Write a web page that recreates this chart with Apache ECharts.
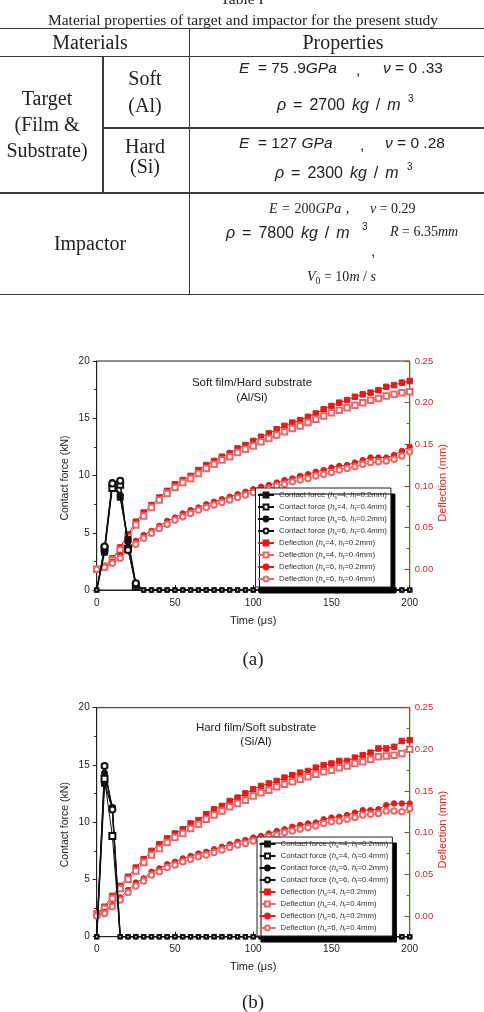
<!DOCTYPE html>
<html>
<head>
<meta charset="utf-8">
<title>Material properties and impact response</title>
<script src="https://cdn.jsdelivr.net/npm/echarts@6/dist/echarts.min.js"></script>
<style>
  html, body { margin: 0; padding: 0; background: #fff; overflow: hidden; }
  #page { position: relative; width: 484px; height: 1012px; }
  #chart { position: absolute; left: 0; top: 0; width: 484px; height: 1012px; }
  .c { position: absolute; transform: translate(-50%, -50%); white-space: pre; line-height: 1; color: #222; }
  .l { position: absolute; transform: translate(0, -50%); white-space: pre; line-height: 1; color: #222; }
  .serif { font-family: "Liberation Serif", "Times New Roman", serif; }
  .f { font-family: "Liberation Sans", Arial, sans-serif; font-size: 15.5px; }
  .fr { font-family: "Liberation Sans", Arial, sans-serif; font-size: 16px; word-spacing: 2.5px; }
  .fi { font-family: "Liberation Serif", "Times New Roman", serif; font-size: 14px; }
  .h { position: absolute; height: 1.5px; background: #3a3a3a; }
  .v { position: absolute; width: 1.5px; background: #3a3a3a; }
  sub { font-size: 0.7em; vertical-align: -0.35em; line-height: 0; }
</style>
</head>
<body>
<div id="page">
  <div id="chart"></div>

  <!-- table -->
  <div class="c serif" style="left:242px;top:-1px;font-size:15.5px">Table I</div>
  <div class="c serif" style="left:243px;top:20px;font-size:15.5px">Material properties of target and impactor for the present study</div>

  <div class="h" style="left:0;top:27.5px;width:484px"></div>
  <div class="h" style="left:0;top:55.5px;width:484px"></div>
  <div class="h" style="left:102px;top:127px;width:382px"></div>
  <div class="h" style="left:0;top:192px;width:484px"></div>
  <div class="h" style="left:0;top:293.5px;width:484px"></div>
  <div class="v" style="left:188.5px;top:28px;height:266px"></div>
  <div class="v" style="left:102px;top:56px;height:137px"></div>

  <div class="c serif" style="left:90px;top:42px;font-size:20px">Materials</div>
  <div class="c serif" style="left:343px;top:42px;font-size:20px">Properties</div>

  <div class="c serif" style="left:47px;top:98px;font-size:20px">Target</div>
  <div class="c serif" style="left:47px;top:124px;font-size:20px">(Film &amp;</div>
  <div class="c serif" style="left:47px;top:150px;font-size:20px">Substrate)</div>

  <div class="c serif" style="left:145px;top:78px;font-size:20px">Soft</div>
  <div class="c serif" style="left:145px;top:105px;font-size:20px">(Al)</div>
  <div class="c serif" style="left:145px;top:146px;font-size:20px">Hard</div>
  <div class="c serif" style="left:145px;top:166px;font-size:20px">(Si)</div>

  <!-- soft (Al) -->
  <div class="l f" style="left:239px;top:68px"><i>E</i>  = 75 .9<i>GPa</i></div>
  <div class="l f" style="left:356px;top:70px">,</div>
  <div class="l f" style="left:383px;top:68px"><i>ν</i> = 0 .33</div>
  <div class="l fr" style="left:277px;top:105px"><i>ρ</i> = 2700 <i>kg</i> / <i>m</i></div>
  <div class="l f" style="left:408px;top:99px;font-size:10px">3</div>

  <!-- hard (Si) -->
  <div class="l f" style="left:239px;top:143px"><i>E</i>  = 127 <i>GPa</i></div>
  <div class="l f" style="left:360px;top:145px">,</div>
  <div class="l f" style="left:385px;top:143px"><i>ν</i> = 0 .28</div>
  <div class="l fr" style="left:275px;top:173px"><i>ρ</i> = 2300 <i>kg</i> / <i>m</i></div>
  <div class="l f" style="left:407px;top:167px;font-size:10px">3</div>

  <!-- impactor -->
  <div class="c serif" style="left:90px;top:243px;font-size:20px">Impactor</div>
  <div class="l fi" style="left:269px;top:209px;word-spacing:1px"><i>E</i> = 200<i>GPa</i> ,</div>
  <div class="l fi" style="left:370px;top:209px"><i>ν</i> = 0.29</div>
  <div class="l fr" style="left:226px;top:233px"><i>ρ</i> = 7800 <i>kg</i> / <i>m</i></div>
  <div class="l f" style="left:362px;top:227px;font-size:10px">3</div>
  <div class="l f" style="left:371px;top:251px">,</div>
  <div class="l fi" style="left:390px;top:232px"><i>R</i> = 6.35<i>mm</i></div>
  <div class="l fi" style="left:307px;top:277px"><i>V</i><sub>0</sub> = 10<i>m</i> / <i>s</i></div>
</div>

<script>
// time axis (μs), one point every 5 μs
const times = [0, 5, 10, 15, 20, 25, 30, 35, 40, 45, 50, 55, 60, 65, 70, 75, 80, 85, 90, 95, 100,
  105, 110, 115, 120, 125, 130, 135, 140, 145, 150, 155, 160, 165, 170, 175, 180, 185, 190, 195, 200];

const timeTicks = [0, 50, 100, 150, 200];
const forceTicks = [0, 5, 10, 15, 20];
const deflTicks = [0, 0.05, 0.10, 0.15, 0.20, 0.25];
const deflMinorTicks = [0.025, 0.075, 0.125, 0.175, 0.225];

const cfNames = [
  'Contact force (hs=4, hf=0.2mm)',
  'Contact force (hs=4, hf=0.4mm)',
  'Contact force (hs=6, hf=0.2mm)',
  'Contact force (hs=6, hf=0.4mm)'
];
const defNames = [
  'Deflection (hs=4, hf=0.2mm)',
  'Deflection (hs=4, hf=0.4mm)',
  'Deflection (hs=6, hf=0.2mm)',
  'Deflection (hs=6, hf=0.4mm)'
];

// (a) Soft film / Hard substrate (Al/Si)
const cfA_s4_02 = [0, 3.3, 9.2, 8.1, 4.4, 0.5, 0, 0, 0, 0, 0, 0, 0, 0, 0, 0, 0, 0, 0, 0, 0, 0, 0, 0, 0, 0, 0, 0, 0, 0, 0, 0, 0, 0, 0, 0, 0, 0, 0, 0, 0];
const cfA_s4_04 = [0, 3.6, 8.9, 9.2, 3.6, 0.3, 0, 0, 0, 0, 0, 0, 0, 0, 0, 0, 0, 0, 0, 0, 0, 0, 0, 0, 0, 0, 0, 0, 0, 0, 0, 0, 0, 0, 0, 0, 0, 0, 0, 0, 0];
const cfA_s6_02 = [0, 3.5, 9.4, 8.3, 4.2, 0.4, 0, 0, 0, 0, 0, 0, 0, 0, 0, 0, 0, 0, 0, 0, 0, 0, 0, 0, 0, 0, 0, 0, 0, 0, 0, 0, 0, 0, 0, 0, 0, 0, 0, 0, 0];
const cfA_s6_04 = [0, 3.8, 9.3, 9.55, 3.5, 0.6, 0, 0, 0, 0, 0, 0, 0, 0, 0, 0, 0, 0, 0, 0, 0, 0, 0, 0, 0, 0, 0, 0, 0, 0, 0, 0, 0, 0, 0, 0, 0, 0, 0, 0, 0];

const defA_s4_02 = [0.000, 0.004, 0.013, 0.026, 0.042, 0.057, 0.068, 0.077, 0.086, 0.094, 0.102, 0.107, 0.112, 0.119,
  0.125, 0.130, 0.135, 0.139, 0.145, 0.149, 0.154, 0.159, 0.163, 0.168, 0.172, 0.176, 0.179, 0.183, 0.187, 0.192,
  0.196, 0.200, 0.203, 0.207, 0.210, 0.212, 0.215, 0.219, 0.221, 0.224, 0.226];
const defA_s4_04 = [0.000, 0.003, 0.011, 0.023, 0.038, 0.053, 0.064, 0.074, 0.083, 0.091, 0.098, 0.104, 0.109, 0.115,
  0.121, 0.126, 0.131, 0.135, 0.140, 0.144, 0.148, 0.153, 0.157, 0.161, 0.165, 0.169, 0.172, 0.176, 0.180, 0.184,
  0.188, 0.191, 0.194, 0.197, 0.200, 0.203, 0.205, 0.208, 0.210, 0.212, 0.213];
const defA_s6_02 = [0.000, 0.003, 0.009, 0.017, 0.026, 0.034, 0.041, 0.046, 0.052, 0.058, 0.062, 0.067, 0.071, 0.074,
  0.078, 0.081, 0.084, 0.087, 0.090, 0.093, 0.096, 0.099, 0.101, 0.104, 0.107, 0.109, 0.112, 0.114, 0.117, 0.119,
  0.122, 0.124, 0.125, 0.128, 0.131, 0.134, 0.134, 0.134, 0.137, 0.142, 0.147];
const defA_s6_04 = [0.000, 0.002, 0.007, 0.013, 0.022, 0.030, 0.037, 0.043, 0.049, 0.054, 0.059, 0.063, 0.067, 0.071,
  0.074, 0.077, 0.080, 0.083, 0.086, 0.089, 0.092, 0.094, 0.097, 0.100, 0.102, 0.105, 0.107, 0.109, 0.112, 0.114,
  0.116, 0.119, 0.121, 0.123, 0.126, 0.128, 0.129, 0.130, 0.132, 0.136, 0.141];

// (b) Hard film / Soft substrate (Si/Al)
const cfB_s4_02 = [0, 13.4, 11.2, 0, 0, 0, 0, 0, 0, 0, 0, 0, 0, 0, 0, 0, 0, 0, 0, 0, 0, 0, 0, 0, 0, 0, 0, 0, 0, 0, 0, 0, 0, 0, 0, 0, 0, 0, 0, 0, 0];
const cfB_s4_04 = [0, 13.8, 8.8, 0, 0, 0, 0, 0, 0, 0, 0, 0, 0, 0, 0, 0, 0, 0, 0, 0, 0, 0, 0, 0, 0, 0, 0, 0, 0, 0, 0, 0, 0, 0, 0, 0, 0, 0, 0, 0, 0];
const cfB_s6_02 = [0, 14.3, 11.3, 0, 0, 0, 0, 0, 0, 0, 0, 0, 0, 0, 0, 0, 0, 0, 0, 0, 0, 0, 0, 0, 0, 0, 0, 0, 0, 0, 0, 0, 0, 0, 0, 0, 0, 0, 0, 0, 0];
const cfB_s6_04 = [0, 14.9, 11.1, 0, 0, 0, 0, 0, 0, 0, 0, 0, 0, 0, 0, 0, 0, 0, 0, 0, 0, 0, 0, 0, 0, 0, 0, 0, 0, 0, 0, 0, 0, 0, 0, 0, 0, 0, 0, 0, 0];

const defB_s4_02 = [0.003, 0.011, 0.024, 0.036, 0.047, 0.058, 0.068, 0.078, 0.086, 0.093, 0.099, 0.104, 0.111, 0.115,
  0.122, 0.128, 0.132, 0.138, 0.142, 0.147, 0.152, 0.156, 0.159, 0.162, 0.166, 0.169, 0.172, 0.174, 0.178, 0.181,
  0.183, 0.186, 0.186, 0.190, 0.193, 0.196, 0.201, 0.201, 0.203, 0.210, 0.211];
const defB_s4_04 = [0.002, 0.009, 0.021, 0.033, 0.044, 0.054, 0.064, 0.073, 0.081, 0.088, 0.094, 0.099, 0.105, 0.110,
  0.116, 0.121, 0.126, 0.131, 0.135, 0.139, 0.144, 0.148, 0.151, 0.155, 0.158, 0.161, 0.164, 0.167, 0.170, 0.173,
  0.175, 0.178, 0.180, 0.183, 0.185, 0.188, 0.191, 0.192, 0.193, 0.195, 0.200];
const defB_s6_02 = [0.001, 0.005, 0.013, 0.022, 0.031, 0.040, 0.045, 0.053, 0.057, 0.062, 0.065, 0.069, 0.072, 0.075,
  0.077, 0.080, 0.083, 0.086, 0.089, 0.091, 0.094, 0.096, 0.099, 0.102, 0.104, 0.107, 0.109, 0.111, 0.112, 0.116,
  0.118, 0.119, 0.121, 0.124, 0.127, 0.127, 0.128, 0.133, 0.135, 0.135, 0.135];
const defB_s6_04 = [0.000, 0.003, 0.011, 0.019, 0.028, 0.036, 0.042, 0.049, 0.053, 0.058, 0.061, 0.065, 0.068, 0.071,
  0.073, 0.076, 0.079, 0.082, 0.085, 0.087, 0.090, 0.092, 0.095, 0.097, 0.100, 0.102, 0.104, 0.106, 0.108, 0.111,
  0.113, 0.114, 0.116, 0.118, 0.121, 0.122, 0.123, 0.126, 0.126, 0.125, 0.129];

const SANS = '"Liberation Sans", Arial, sans-serif';
const SERIF = '"Liberation Serif", "Times New Roman", serif';
const INK = '#222';
const RED = '#e01c1c';
const PINK = '#e26a6a';
const AXRED = '#cf2b2b';
const symbols = ['rect', 'emptyRect', 'circle', 'emptyCircle'];

function pts(arr) {
  return times.map((t, i) => [t, arr[i]]);
}

function cfSeries(name, arr, g, k) {
  return {
    name: name, type: 'line', xAxisIndex: g, yAxisIndex: g * 3,
    data: pts(arr), symbol: symbols[k],
    symbolSize: function (v) { return v[1] === 0 ? 3.5 : 6; },
    lineStyle: { width: k % 2 ? 1 : 1.4, color: '#111' },
    itemStyle: { color: '#111', borderColor: '#111', borderWidth: 1 },
    animation: false, z: 3
  };
}

function defSeries(name, arr, g, k) {
  const col = k % 2 ? PINK : RED;
  return {
    name: name, type: 'line', xAxisIndex: g, yAxisIndex: g * 3 + 1,
    data: pts(arr), symbol: symbols[k], symbolSize: 5.5,
    lineStyle: { width: 1, color: col },
    itemStyle: { color: col, borderColor: col, borderWidth: 1 },
    animation: false, z: 2
  };
}

function axesFor(g) {
  const x = {
    gridIndex: g, type: 'value', min: 0, max: 200, interval: 50,
    axisLine: { show: true, lineStyle: { color: INK, width: 1 } },
    axisTick: { show: true, inside: true, length: 5, customValues: timeTicks, lineStyle: { color: INK } },
    minorTick: { show: true, splitNumber: 2, length: 3, lineStyle: { color: INK } },
    axisLabel: { color: INK, fontSize: 10, margin: 8, fontFamily: SANS, customValues: timeTicks },
    splitLine: { show: false },
    name: 'Time (μs)', nameLocation: 'middle', nameGap: 25, nameMoveOverlap: false,
    nameTextStyle: { fontSize: 11, color: INK, fontFamily: SANS }
  };
  const yl = {
    gridIndex: g, type: 'value', position: 'left', min: 0, max: 20, interval: 5,
    axisLine: { show: true, lineStyle: { color: INK } },
    axisTick: { show: true, inside: false, length: 4, lineStyle: { color: INK } },
    minorTick: { show: true, splitNumber: 2, length: 2.5, lineStyle: { color: INK } },
    axisLabel: { color: INK, fontSize: 10, margin: 7, fontFamily: SANS, customValues: forceTicks },
    splitLine: { show: false },
    name: 'Contact force (kN)', nameLocation: 'middle', nameRotate: 90, nameGap: 26, nameMoveOverlap: false,
    nameTextStyle: { fontSize: 10.5, color: INK, fontFamily: SANS, padding: [0, 5, 0, 0] }
  };
  const yr = {
    gridIndex: g, type: 'value', position: 'right', min: -0.025, max: 0.25,
    axisLine: { show: true, lineStyle: { color: AXRED } },
    axisTick: { show: true, inside: true, length: 5, customValues: deflTicks, lineStyle: { color: AXRED } },
    axisLabel: {
      color: AXRED, fontSize: 9.5, margin: 5, fontFamily: SANS, customValues: deflTicks,
      formatter: function (v) { return v.toFixed(2); }
    },
    splitLine: { show: false },
    name: 'Deflection (mm)', nameLocation: 'middle', nameRotate: 90, nameGap: 28, nameMoveOverlap: false,
    nameTextStyle: { fontSize: 11, color: AXRED, fontFamily: SANS, padding: [0, 15, 0, 0] }
  };
  const yrMinor = {
    gridIndex: g, type: 'value', position: 'right', min: -0.025, max: 0.25,
    axisLine: { show: false },
    axisTick: { show: true, inside: true, length: 3, customValues: deflMinorTicks, lineStyle: { color: AXRED } },
    axisLabel: { show: false },
    splitLine: { show: false }
  };
  return { x: x, y: [yl, yr, yrMinor] };
}

function legendFor(left, top) {
  return {
    orient: 'vertical', left: left, top: top,
    itemWidth: 16, itemHeight: 6, itemGap: 2,
    padding: [2, 4, 3, 1.5],
    backgroundColor: '#fff', borderColor: '#222', borderWidth: 1, borderRadius: 0,
    shadowColor: '#000', shadowBlur: 0.5, shadowOffsetX: 4, shadowOffsetY: 6,
    selectedMode: false,
    data: cfNames.concat(defNames),
    formatter: function (n) { return n.replace(/h([sf])=/g, '{i|h}{s|$1}='); },
    textStyle: {
      fontSize: 7.8, lineHeight: 10, color: '#333', fontFamily: SANS,
      rich: {
        i: { fontStyle: 'italic', fontSize: 7.8, lineHeight: 10, color: '#333', fontFamily: SANS },
        s: { fontSize: 5, lineHeight: 10, color: '#333', verticalAlign: 'bottom', fontFamily: SANS }
      }
    }
  };
}

const axA = axesFor(0);
const axB = axesFor(1);

const series = [];
[cfA_s4_02, cfA_s4_04, cfA_s6_02, cfA_s6_04].forEach((a, k) => series.push(cfSeries(cfNames[k], a, 0, k)));
[defA_s4_02, defA_s4_04, defA_s6_02, defA_s6_04].forEach((a, k) => series.push(defSeries(defNames[k], a, 0, k)));
[cfB_s4_02, cfB_s4_04, cfB_s6_02, cfB_s6_04].forEach((a, k) => series.push(cfSeries(cfNames[k], a, 1, k)));
[defB_s4_02, defB_s4_04, defB_s6_02, defB_s6_04].forEach((a, k) => series.push(defSeries(defNames[k], a, 1, k)));

const chart = echarts.init(document.getElementById('chart'));
const option = {
  animation: false,
  grid: [
    { left: 96.7, right: 74.3, top: 361, height: 229, show: true, borderColor: INK, borderWidth: 1 },
    { left: 96.7, right: 74.3, top: 707.7, height: 229, show: true, borderColor: INK, borderWidth: 1 }
  ],
  xAxis: [axA.x, axB.x],
  yAxis: axA.y.concat(axB.y),
  legend: [legendFor(255.5, 488), legendFor(257, 837)],
  graphic: [
    { type: 'text', x: 252, y: 390.5, z: 10,
      style: { text: 'Soft film/Hard substrate\n(Al/Si)', textAlign: 'center', textVerticalAlign: 'middle',
        fontSize: 11.5, lineHeight: 15, fontFamily: SANS, fill: INK } },
    { type: 'text', x: 256, y: 734.7, z: 10,
      style: { text: 'Hard film/Soft substrate\n(Si/Al)', textAlign: 'center', textVerticalAlign: 'middle',
        fontSize: 11.5, lineHeight: 14, fontFamily: SANS, fill: INK } },
    { type: 'text', x: 253, y: 660, z: 10,
      style: { text: '(a)', textAlign: 'center', textVerticalAlign: 'middle', fontSize: 19, fontFamily: SERIF, fill: INK } },
    { type: 'text', x: 253, y: 1003, z: 10,
      style: { text: '(b)', textAlign: 'center', textVerticalAlign: 'middle', fontSize: 19, fontFamily: SERIF, fill: INK } }
  ],
  series: series
};
chart.setOption(option);
</script>
</body>
</html>
